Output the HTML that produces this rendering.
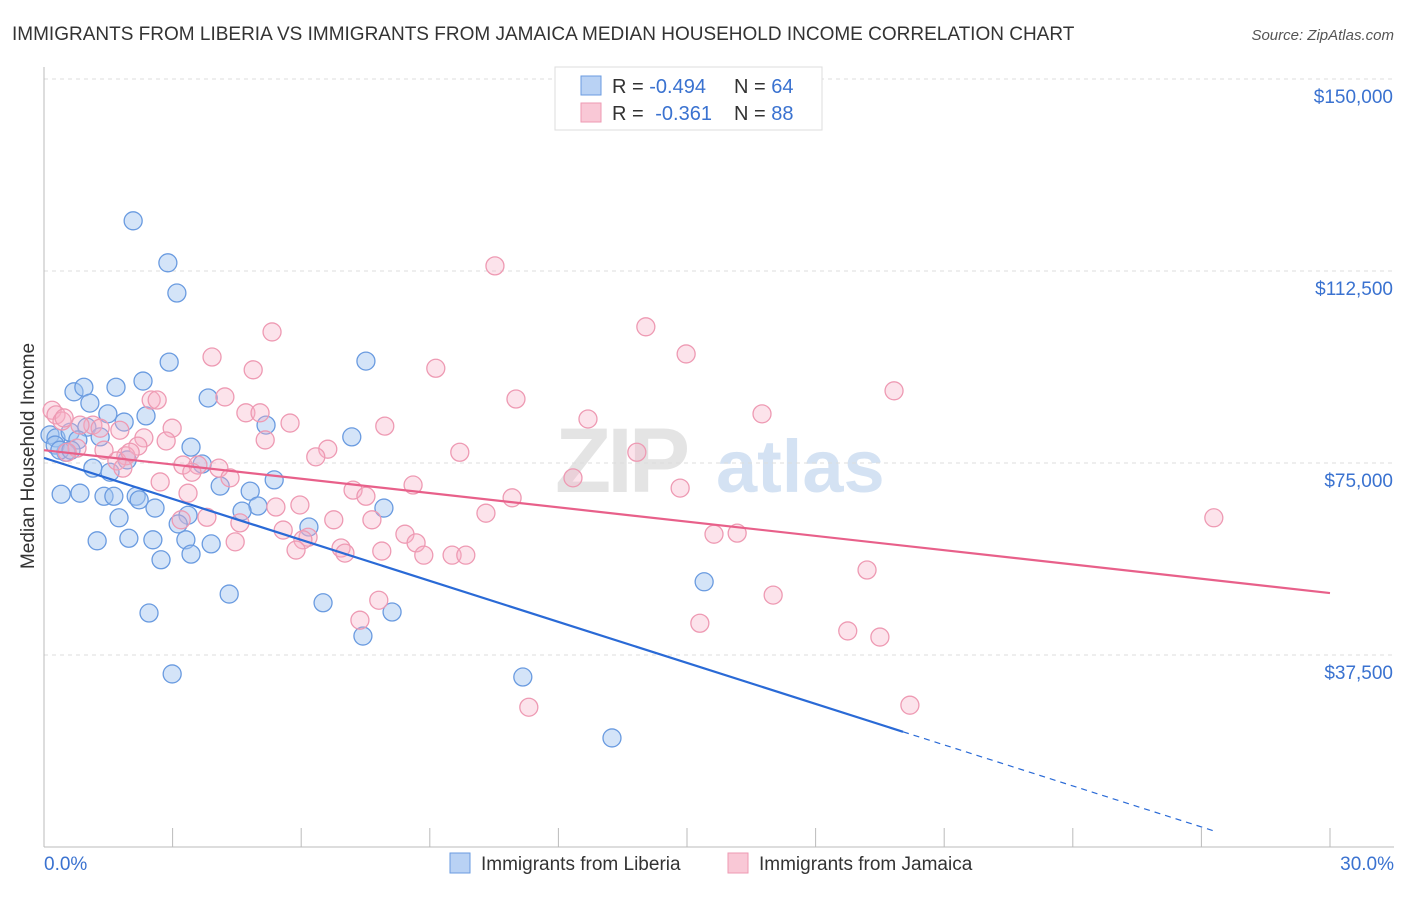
<!DOCTYPE html>
<html><head><meta charset="utf-8">
<style>
body{margin:0;background:#fff;font-family:"Liberation Sans",sans-serif;}
svg text{font-family:"Liberation Sans",sans-serif;}
</style></head>
<body>
<svg id="chart" width="1406" height="892" xmlns="http://www.w3.org/2000/svg">
<text x="12" y="40" font-size="19" fill="#333">IMMIGRANTS FROM LIBERIA VS IMMIGRANTS FROM JAMAICA MEDIAN HOUSEHOLD INCOME CORRELATION CHART</text>
<text x="1394" y="40" font-size="15" fill="#555" text-anchor="end" font-style="italic">Source: ZipAtlas.com</text>
<g>
<text x="555" y="492" font-size="92" fill="#e4e4e4" font-family="Liberation Serif" font-weight="bold" letter-spacing="-4">ZIP</text>
<text x="716" y="492" font-size="74" fill="#d4e2f3" font-weight="bold">atlas</text>
</g>
<g id="grid"></g>
<g id="axes"></g>
<g id="blue-pts"></g>
<g id="pink-pts"></g>
<g id="trends"></g>
<text transform="translate(34,456) rotate(-90)" font-size="19" fill="#333" text-anchor="middle">Median Household Income</text>
<g>
<rect x="555" y="67" width="267" height="63" fill="#fff" stroke="#ddd"/>
<rect x="581" y="76" width="20" height="19" fill="#b9d2f4" stroke="#6a9be0"/>
<rect x="581" y="103" width="20" height="19" fill="#f9c8d6" stroke="#ee9ab3"/>
<text x="612" y="93" font-size="20" fill="#333">R = <tspan fill="#3a72d0">-0.494</tspan></text>
<text x="734" y="93" font-size="20" fill="#333">N = <tspan fill="#3a72d0">64</tspan></text>
<text x="612" y="120" font-size="20" fill="#333">R = <tspan fill="#3a72d0" dx="6">-0.361</tspan></text>
<text x="734" y="120" font-size="20" fill="#333">N = <tspan fill="#3a72d0">88</tspan></text>
</g>
<g>
<rect x="450" y="853" width="20" height="20" fill="#b9d2f4" stroke="#6a9be0"/>
<text x="481" y="870" font-size="19" fill="#333">Immigrants from Liberia</text>
<rect x="728" y="853" width="20" height="20" fill="#f9c8d6" stroke="#ee9ab3"/>
<text x="759" y="870" font-size="19" fill="#333">Immigrants from Jamaica</text>
</g>
</svg>
<script>
const yTicks=[37500,75000,112500,150000];
const yTickLabels=["$37,500","$75,000","$112,500","$150,000"];
const xTickLabels=["0.0%","30.0%"];
const blueX=[2.08,2.89,3.10,2.92,7.51,0.70,0.93,1.68,2.31,1.07,1.49,2.38,1.87,3.83,0.14,0.28,0.61,1.00,1.31,0.79,0.51,0.26,0.37,0.63,3.43,7.18,5.18,1.94,3.69,1.14,1.54,5.37,4.11,4.81,0.40,0.84,1.40,1.63,2.15,2.22,2.59,4.99,4.62,7.93,1.75,3.36,3.13,6.18,1.24,1.98,2.54,3.31,3.90,2.73,3.43,15.40,4.32,6.51,8.12,2.45,7.44,2.99,11.17,13.25];
const blueY=[122.3,114.1,108.2,94.7,94.9,88.9,89.8,89.8,91.0,86.7,84.6,84.2,83.0,87.7,80.5,79.9,81.0,82.0,80.1,79.5,77.1,78.5,77.5,77.5,78.1,80.1,82.4,75.6,74.8,74.0,73.2,71.7,70.5,69.5,68.9,69.1,68.5,68.5,68.5,67.8,66.2,66.6,65.6,66.2,64.3,64.8,63.1,62.5,59.8,60.3,60.0,60.0,59.2,56.1,57.2,51.8,49.4,47.7,45.9,45.7,41.2,33.8,33.2,21.3];
const pinkX=[10.52,14.04,5.32,14.98,3.92,9.14,4.88,19.83,11.01,4.22,2.50,2.64,0.19,0.28,4.71,5.04,12.69,16.75,5.74,7.95,2.99,0.42,1.14,1.77,1.31,2.33,5.16,2.85,2.19,0.77,0.54,6.62,9.70,13.83,6.34,1.91,1.70,3.24,3.59,4.08,4.34,2.71,12.34,8.61,3.36,7.21,7.51,10.92,14.84,5.97,5.41,10.31,27.29,3.80,3.20,4.57,6.76,7.65,5.58,6.16,8.42,6.04,4.46,8.68,5.88,6.93,7.02,7.88,8.86,9.52,9.84,15.63,16.17,19.20,17.01,7.81,7.37,15.30,18.75,19.50,11.31,20.20,0.47,0.84,1.40,2.01,3.45,1.84];
const pinkY=[113.5,101.6,100.6,96.3,95.7,93.5,93.2,89.1,87.5,87.9,87.3,87.3,85.3,84.4,84.8,84.8,83.6,84.6,82.8,82.2,81.8,83.2,82.4,81.4,81.8,79.9,79.5,79.3,78.3,77.9,77.1,77.7,77.1,77.1,76.2,76.4,75.4,74.6,74.6,74.0,72.1,71.3,72.1,70.7,69.1,69.7,68.5,68.2,70.1,66.8,66.4,65.2,64.3,64.4,63.9,63.3,63.9,63.9,61.9,60.5,61.1,60.0,59.6,59.4,58.0,58.4,57.4,57.8,57.0,57.0,57.0,61.1,61.3,54.1,49.2,48.2,44.3,43.7,42.2,41.0,27.3,27.7,83.8,82.4,77.5,77.1,73.2,74.0];
const blueTrend=[76.0,22.5];   // k$ at x=0 and x=20.04
const blueTrendX=[0,20.04,27.3];
const pinkTrend=[77.5,49.6];   // k$ at x=0 and x=30
const pinkTrendX=[0,30];

const NS="http://www.w3.org/2000/svg";
const X0=44,X1=1330,Y0=847,PXK=192/37.5;
function sx(p){return X0+(p/30)*(X1-X0);}
function sy(k){return Y0-k*PXK;}
function mk(tag,attrs,parent){const e=document.createElementNS(NS,tag);for(const k in attrs)e.setAttribute(k,attrs[k]);parent.appendChild(e);return e;}

const grid=document.getElementById('grid');
yTicks.forEach((v,i)=>{
  const y=sy(v/1000);
  const l=mk('line',{x1:X0,x2:1394,y1:y,y2:y,stroke:'#ddd','stroke-dasharray':'4,4'},grid);
  
  
  const t=mk('text',{x:1393,y:y+24,'font-size':19,fill:'#3a72d0','text-anchor':'end'},grid);
  t.textContent=yTickLabels[i];
  
  
});
const axes=document.getElementById('axes');
const ya=mk('line',{x1:X0,x2:X0,y1:67,y2:Y0,stroke:'#bbb'},axes);


const xa=mk('line',{x1:X0,x2:1394,y1:Y0,y2:Y0,stroke:'#bbb'},axes);


for(let i=0;i<=10;i++){
  const x=sx(i*3);
  const tk=mk('line',{x1:x,x2:x,y1:828,y2:Y0,stroke:'#bbb'},axes);
  
  
}
const xl0=mk('text',{x:44,y:870,'font-size':19,fill:'#3a72d0'},axes);
xl0.textContent=xTickLabels[0];


const xl1=mk('text',{x:1394,y:870,'font-size':19,fill:'#3a72d0','text-anchor':'end'},axes);
xl1.textContent=xTickLabels[1];



function pts(gid,xs,ys,fill,stroke,name){
  const g=document.getElementById(gid);
  xs.forEach((x,i)=>{
    const c=mk('circle',{cx:sx(x),cy:sy(ys[i]),r:9,fill:fill,stroke:stroke,'stroke-width':1.3},g);
    
    
  });
}
pts('blue-pts',blueX,blueY,'rgba(160,195,240,0.45)','#6a9be0','liberia-point');
pts('pink-pts',pinkX,pinkY,'rgba(245,175,198,0.35)','#ee9ab3','jamaica-point');

const tr=document.getElementById('trends');
const bs=(blueTrend[1]-blueTrend[0])/(blueTrendX[1]-blueTrendX[0]);
const b1=mk('line',{x1:sx(blueTrendX[0]),y1:sy(blueTrend[0]),x2:sx(blueTrendX[1]),y2:sy(blueTrend[1]),stroke:'#2a6ad6','stroke-width':2.2},tr);


const b2=mk('line',{x1:sx(blueTrendX[1]),y1:sy(blueTrend[1]),x2:sx(blueTrendX[2]),y2:sy(blueTrend[0]+bs*blueTrendX[2]),stroke:'#2a6ad6','stroke-width':1.2,'stroke-dasharray':'6,5'},tr);


const p1=mk('line',{x1:sx(pinkTrendX[0]),y1:sy(pinkTrend[0]),x2:sx(pinkTrendX[1]),y2:sy(pinkTrend[1]),stroke:'#e8608a','stroke-width':2.2},tr);


</script>
</body></html>
